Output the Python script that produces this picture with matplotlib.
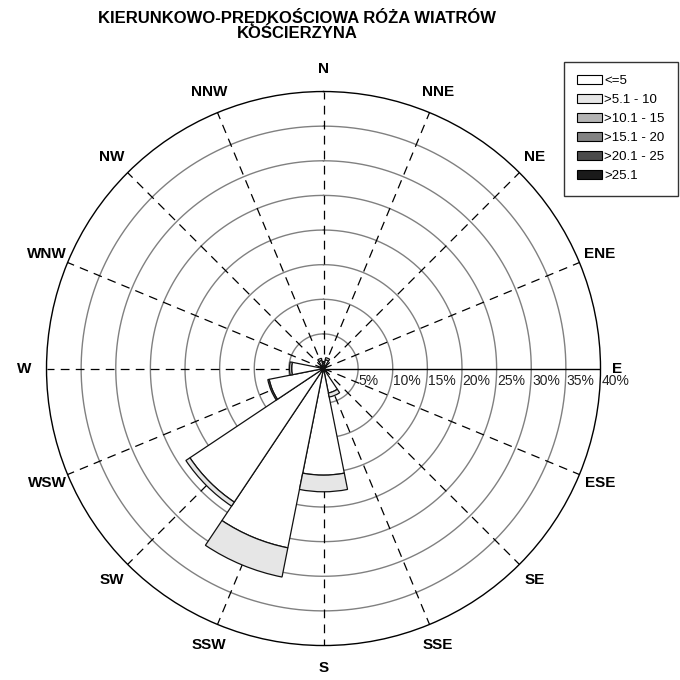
import numpy as np
import matplotlib
import matplotlib.pyplot as plt
from matplotlib.patches import Patch

matplotlib.use('Agg')
plt.rcParams['font.family'] = ['Liberation Sans', 'DejaVu Sans']

# --- dane: udział procentowy kierunków wiatru wg klas prędkości ---
kierunki = ['N', 'NNE', 'NE', 'ENE', 'E', 'ESE', 'SE', 'SSE',
            'S', 'SSW', 'SW', 'WSW', 'W', 'WNW', 'NW', 'NNW']
klasy = ['<=5', '>5.1 - 10', '>10.1 - 15', '>15.1 - 20', '>20.1 - 25', '>25.1']
kolory = ['#ffffff', '#e6e6e6', '#b4b4b4', '#828282', '#4b4b4b', '#1a1a1a']

v_do5 = [0.8, 1.3, 0.4, 0.2, 0.2, 0.2, 0.4, 3.6,
         15.4, 26.4, 23.2, 8.0, 4.6, 0.4, 0.4, 1.2]
v_5_10 = [0.2, 0.3, 0.1, 0.0, 0.0, 0.0, 0.1, 0.6,
          2.4, 4.3, 0.7, 0.2, 0.3, 0.0, 0.1, 0.3]
v_10_15 = [0.0] * 16
v_15_20 = [0.0] * 16
v_20_25 = [0.0] * 16
v_25 = [0.0] * 16
serie = [v_do5, v_5_10, v_10_15, v_15_20, v_20_25, v_25]

pierscienie = [5, 10, 15, 20, 25, 30, 35, 40]

fig = plt.figure(figsize=(6.8, 6.8), dpi=100)
ax = fig.add_axes([0.0684, 0.0507, 0.8147, 0.8147], projection='polar')
ax.set_theta_zero_location('N')
ax.set_theta_direction(-1)
ax.set_ylim(0, 40)
ax.grid(False)
ax.set_xticks([])
ax.set_yticks([])
ax.spines['polar'].set_color('black')
ax.spines['polar'].set_linewidth(1.0)

katy = np.deg2rad(np.arange(16) * 22.5)
szer = np.deg2rad(22.5)

# siatka: okręgi i promienie
t = np.linspace(0, 2 * np.pi, 400)
for r in pierscienie[:-1]:
    ax.plot(t, np.full_like(t, r), color='#808080', lw=1.0, zorder=1)
for i, a in enumerate(katy):
    if kierunki[i] == 'E':
        ax.plot([a, a], [0, 40], color='black', lw=1.0, zorder=1)
    else:
        ax.plot([a, a], [0, 40], color='black', lw=0.9,
                dashes=(7, 5), zorder=1)

# słupki
dol = np.zeros(16)
for wart, kol in zip(serie, kolory):
    wart = np.array(wart)
    maska = wart > 0
    ax.bar(katy[maska], wart[maska], width=szer, bottom=dol[maska],
           color=kol, edgecolor='#111111', linewidth=0.9, zorder=3)
    dol += wart

# opisy kierunków
for i, a in enumerate(katy):
    r_opis = 42.4 if kierunki[i] == 'E' else 43.2
    ax.text(a, r_opis, kierunki[i], ha='center', va='center', fontsize=11,
            fontweight='bold', clip_on=False)

# opisy okręgów (wzdłuż osi E, pod linią)
for r in pierscienie:
    ax.annotate(f'{r}%', xy=(np.pi / 2, r), xytext=(0.5, -4),
                textcoords='offset points', ha='left', va='top',
                fontsize=10, color='#222222', annotation_clip=False)

fig.text(0.437, 0.988, 'KIERUNKOWO-PRĘDKOŚCIOWA RÓŻA WIATRÓW\nKOŚCIERZYNA',
         ha='center', va='top', fontsize=12, fontweight='bold', linespacing=1.0)

uchwyty = [Patch(facecolor=k, edgecolor='black', linewidth=0.8) for k in kolory]
leg = fig.legend(uchwyty, klasy, loc='upper right',
                 bbox_to_anchor=(678 / 680, 1 - 62 / 680), fontsize=9.5,
                 handlelength=1.9, handleheight=0.68, handletextpad=0.2,
                 labelspacing=0.52, borderpad=1.0, borderaxespad=0,
                 fancybox=False, framealpha=1, edgecolor='#333333')
leg.get_frame().set_linewidth(1.0)

fig.savefig('out.png', dpi=100)
